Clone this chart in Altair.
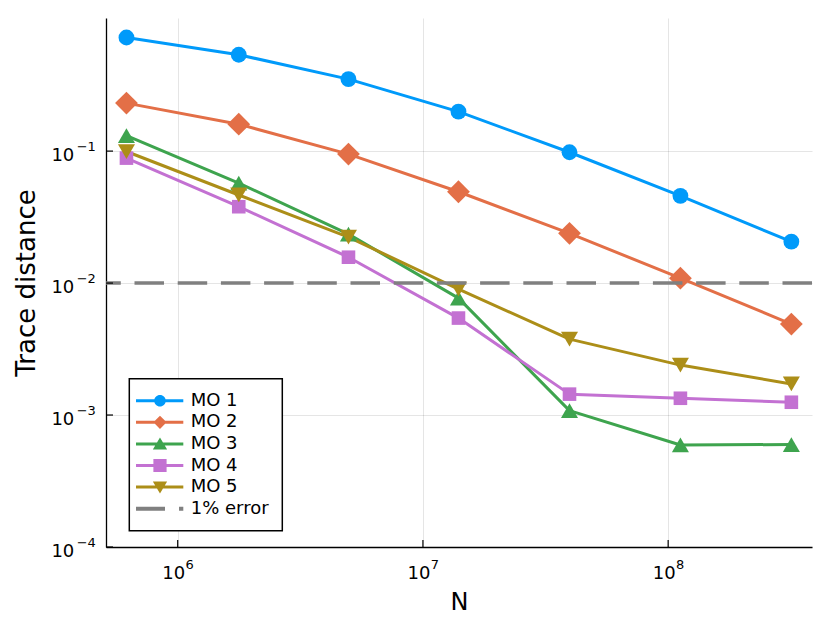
import altair as alt
import pandas as pd

# ---------------- data ----------------
N_VALUES = [6.18e5, 1.774e6, 4.97e6, 1.396e7, 3.96e7, 1.122e8, 3.18e8]
MO1 = [0.726, 0.537, 0.351, 0.199, 0.098, 0.0458, 0.0206]
MO2 = [0.231, 0.160, 0.0949, 0.0492, 0.0238, 0.0109, 0.00489]
MO3 = [0.131, 0.0572, 0.0235, 0.00769, 0.00108, 0.000593, 0.000598]
MO4 = [0.0885, 0.0379, 0.0157, 0.00543, 0.00144, 0.00134, 0.00125]
MO5 = [0.0993, 0.0465, 0.0223, 0.00901, 0.00376, 0.00239, 0.00172]
SERIES = ["MO 1", "MO 2", "MO 3", "MO 4", "MO 5"]
THRESHOLD = [0.01]
THRESHOLD_LABEL = "1% error"
X_TICKS = [1e6, 1e7, 1e8]
Y_TICKS = [1e-4, 1e-3, 1e-2, 1e-1]
X_DOMAIN = [5.1e5, 3.86e8]
Y_DOMAIN = [1e-4, 1.02]

# ---------------- styles ----------------
COLORS = ["#009AFA", "#E36F47", "#3EA44E", "#C371D2", "#AC8E18"]
GREY = "#808080"
SHAPES = ["circle", "diamond", "triangle-up", "square", "triangle-down"]
SIZES = [250, 520, 290, 185, 290]
FONT = "DejaVu Sans"
W, H = 706, 529

rows = []
for name, vals in zip(SERIES, [MO1, MO2, MO3, MO4, MO5]):
    for n, v in zip(N_VALUES, vals):
        rows.append({"series": name, "N": n, "value": v})
df = pd.DataFrame(rows)

xs = alt.Scale(type="log", domain=X_DOMAIN, nice=False)
ys = alt.Scale(type="log", domain=Y_DOMAIN, nice=False)
color_scale = alt.Scale(domain=SERIES, range=COLORS)
shape_scale = alt.Scale(domain=SERIES, range=SHAPES)
size_scale = alt.Scale(type="ordinal", domain=SERIES, range=SIZES)

EXP_EXPR = "replace('' + round(log(datum.value)/LN10), '-', '\u2212')"

axis_x_main = alt.Axis(
    values=X_TICKS, labelExpr="'10'", labelFontSize=18, labelOffset=-4.5,
    labelPadding=17.6, labelBaseline="top", labelFlush=False, labelOverlap=False,
    labelColor="#000", grid=True, gridColor="#000", gridOpacity=0.1, gridWidth=1,
    ticks=False, domainColor="#000", domainWidth=1.3, title="N",
    titleFontSize=24, titleFontWeight="normal", titleColor="#000",
    titleX=W / 2, titleY=62, titleBaseline="alphabetic", titleAlign="center",
    orient="bottom",
)
axis_y_main = alt.Axis(
    values=Y_TICKS, labelExpr="'10'", labelFontSize=18, labelPadding=32.2,
    labelOffset=4.6, labelFlush=False, labelOverlap=False, labelColor="#000",
    grid=True, gridColor="#000", gridOpacity=0.1, gridWidth=1, ticks=False,
    domainColor="#000", domainWidth=1.3, title="Trace distance",
    titleFontSize=26, titleFontWeight="normal", titleColor="#000",
    titleX=-71.7, titleY=H / 2, titleAngle=270, titleBaseline="alphabetic",
    titleAlign="center", orient="left",
)
axis_x_exp = alt.Axis(
    values=X_TICKS, labelExpr=EXP_EXPR, labelFontSize=13, labelOffset=11.4,
    labelPadding=11.9, labelBaseline="top", labelFlush=False,
    labelOverlap=False, labelColor="#000", grid=False, ticks=False,
    domain=False, orient="bottom",
)
axis_y_exp = alt.Axis(
    values=Y_TICKS, labelExpr=EXP_EXPR, labelFontSize=13, labelPadding=10.7,
    labelOffset=-4.45, labelFlush=False, labelOverlap=False, labelColor="#000",
    grid=False, ticks=False, domain=False, orient="left",
)

lines = alt.Chart(df).mark_line(strokeWidth=3, clip=True, strokeJoin="round").encode(
    x=alt.X("N:Q", scale=xs, axis=axis_x_main),
    y=alt.Y("value:Q", scale=ys, axis=axis_y_main),
    color=alt.Color("series:N", scale=color_scale, legend=None),
)
points = alt.Chart(df).mark_point(filled=True, opacity=1, clip=True).encode(
    x=alt.X("N:Q", scale=xs, axis=None),
    y=alt.Y("value:Q", scale=ys, axis=None),
    color=alt.Color("series:N", scale=color_scale, legend=None),
    shape=alt.Shape("series:N", scale=shape_scale, legend=None),
    size=alt.Size("series:N", scale=size_scale, legend=None),
)
hline = alt.Chart(pd.DataFrame({"t": THRESHOLD})).mark_rule(
    color=GREY, strokeWidth=3.6, strokeDash=[29.5, 13.7]
).encode(y=alt.Y("t:Q", scale=ys, axis=None))

x_ticks = alt.Chart(pd.DataFrame({"v": X_TICKS})).mark_rule(color="#000", strokeWidth=1.2).encode(
    x=alt.X("v:Q", scale=xs, axis=axis_x_exp, title=""),
    y=alt.value(H), y2=alt.value(H - 7),
)
y_ticks = alt.Chart(pd.DataFrame({"v": Y_TICKS})).mark_rule(color="#000", strokeWidth=1.2).encode(
    y=alt.Y("v:Q", scale=ys, axis=axis_y_exp, title=""),
    x=alt.value(0), x2=alt.value(7),
)

# ---------------- legend symbols: line + marker paths ----------------
CX, X0, X1, T = 1.58, -2.78, 5.82, 0.273


def rect(a, b, t):
    return f"M{a},{-t}H{b}V{t}H{a}Z"


LINE = rect(X0, X1, T)
PATHS = [
    LINE + f"M{CX-1.05},0A1.05,1.05 0 1,1 {CX+1.05},0A1.05,1.05 0 1,1 {CX-1.05},0Z",
    LINE + f"M{CX},-1.2L{CX+1.2},0L{CX},1.2L{CX-1.2},0Z",
    LINE + f"M{CX},-1.15L{CX+1.3},1.0L{CX-1.3},1.0Z",
    LINE + f"M{CX-1.2},-1.2H{CX+1.2}V1.2H{CX-1.2}Z",
    LINE + f"M{CX-1.3},-1.0L{CX+1.3},-1.0L{CX},1.15Z",
    rect(X0, 2.49, 0.364) + rect(5.04, X1, 0.364),
]
LEGEND_LABELS = SERIES + [THRESHOLD_LABEL]

leg = alt.Legend(
    title=None, orient="none", legendX=23.3, legendY=360.7, padding=13,
    fillColor="white", strokeColor="black", cornerRadius=0,
    labelFontSize=18, labelFont=FONT, labelColor="#000", labelOffset=30.4,
    rowPadding=3.6, symbolSize=121, symbolStrokeWidth=0,
)
legend_layer = (
    alt.Chart(pd.DataFrame({"label": LEGEND_LABELS}))
    .transform_filter("false")
    .mark_point(filled=True, opacity=1, size=121)
    .encode(
        color=alt.Color("label:N", scale=alt.Scale(domain=LEGEND_LABELS, range=COLORS + [GREY]), legend=leg),
        shape=alt.Shape("label:N", scale=alt.Scale(domain=LEGEND_LABELS, range=PATHS), legend=leg),
    )
)

chart = (
    alt.layer(lines, points, hline, x_ticks, y_ticks, legend_layer)
    .resolve_scale(color="independent", shape="independent")
    .resolve_axis(x="independent", y="independent")
    .properties(
        width=W, height=H,
        padding={"left": 98, "top": 10, "right": 8, "bottom": 70},
        autosize=alt.AutoSizeParams(type="none"),
    )
    .configure(font=FONT)
    .configure_view(stroke=None)
    .configure_legend(strokeWidth=1.5)
)

chart.save("out.html", embed_options={"renderer": "svg", "actions": False})
